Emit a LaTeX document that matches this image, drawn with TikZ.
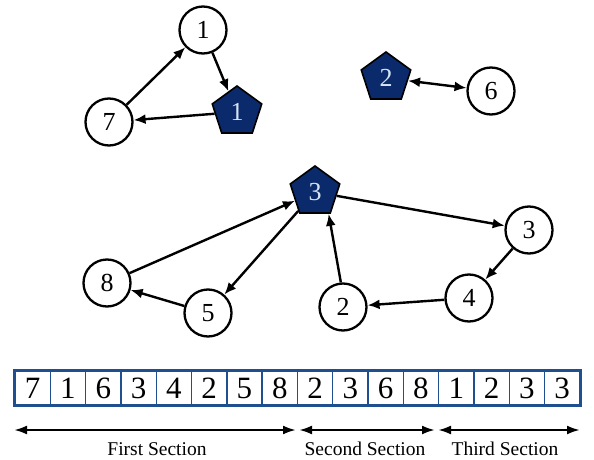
\documentclass[tikz,border=0pt]{standalone}
\usepackage{fontspec}
\setmainfont{Liberation Serif}
\usetikzlibrary{shapes.geometric,arrows.meta}
\definecolor{navy}{HTML}{0B2A6B}
\definecolor{pale}{HTML}{D5E4F4}
\definecolor{cellblue}{HTML}{1F4F8F}

\begin{document}
\begin{tikzpicture}[x=1pt,y=-1pt,
  vtx/.style={circle,draw=black,line width=2.3pt,minimum size=47pt,inner sep=0pt,
    fill=white,font=\fontsize{26}{26}\selectfont},
  hub/.style={regular polygon,regular polygon sides=5,draw=black,line width=1.6pt,
    fill=navy,minimum size=52pt,inner sep=0pt,text=pale,font=\fontsize{26}{26}\selectfont},
  link/.style={line width=2.4pt,-{Latex[length=12pt,width=10pt]}},
  twoway/.style={line width=2.4pt,{Latex[length=12pt,width=10pt]}-{Latex[length=12pt,width=10pt]}},
  cell/.style={rectangle,draw=cellblue,line width=1.4pt,minimum width=35.3pt,
    minimum height=34pt,inner sep=0pt,fill=white,font=\fontsize{31}{31}\selectfont},
  span/.style={line width=2.4pt,{Latex[length=13pt,width=9pt]}-{Latex[length=13pt,width=9pt]}},
  lbl/.style={font=\fontsize{19.5}{19.5}\selectfont}
]
\useasboundingbox (0,0) rectangle (594,460);

% upper left group
\node[vtx] (t1) at (203,30) {1};
\node[vtx] (t7) at (109,122) {7};
\node[hub] (h1) at (237,112) {1};
\draw[link] (t7) -- (t1);
\draw[link] (t1) -- (h1);
\draw[link] (h1) -- (t7);

% upper right pair
\node[hub] (h2) at (386,78) {2};
\node[vtx] (t6) at (491,91) {6};
\draw[twoway] (h2) -- (t6);

% middle group
\node[hub] (h3) at (315,192) {3};
\node[vtx] (m3) at (529,230) {3};
\node[vtx] (m8) at (107,283) {8};
\node[vtx] (m5) at (208,313) {5};
\node[vtx] (m2) at (343,307) {2};
\node[vtx] (m4) at (469,298) {4};
\draw[link] (m8) -- (h3);
\draw[link] (h3) -- (m5);
\draw[link] (m2.95) -- (h3.-58);
\draw[link] (h3) -- (m3);
\draw[link] (m3) -- (m4);
\draw[link] (m4) -- (m2);
\draw[link] (m5) -- (m8);

% sequence array
\foreach \v [count=\i] in {7,1,6,3,4,2,5,8,2,3,6,8,1,2,3,3}
  \node[cell] (a\i) at ({15+35.3*(\i-0.5)},388) {\v};
\draw[cellblue,line width=2.2pt] (a1.north west) rectangle (a16.south east);

% section spans
\coordinate (s0) at (14,430);
\coordinate (s1) at (296,430);
\coordinate (s2) at (299,430);
\coordinate (s3) at (435,430);
\coordinate (s4) at (438,430);
\coordinate (s5) at (580,430);
\draw[span] (s0) -- (s1);
\draw[span] (s2) -- (s3);
\draw[span] (s4) -- (s5);
\node[lbl] (l1) at (157,449) {First Section};
\node[lbl] (l2) at (365,449) {Second Section};
\node[lbl] (l3) at (505,449) {Third Section};
\end{tikzpicture}
\end{document}
